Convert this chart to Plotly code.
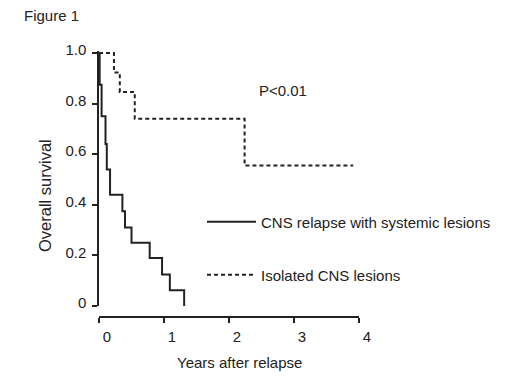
import plotly.graph_objects as go

# ---- data ----
systemic_years = [0, 0.01, 0.04, 0.10, 0.12, 0.17, 0.36, 0.40, 0.50, 0.78, 0.97, 1.09, 1.31]
systemic_surv = [1.0, 0.875, 0.75, 0.64, 0.54, 0.44, 0.375, 0.31, 0.25, 0.19, 0.125, 0.0625, 0.0]
isolated_years = [0, 0.23, 0.32, 0.55, 2.24, 3.91]
isolated_surv = [1.0, 0.923, 0.846, 0.74, 0.555, 0.555]
x_ticks = [0, 1, 2, 3, 4]
y_ticks = [0, 0.2, 0.4, 0.6, 0.8, 1.0]
y_tick_labels = ["0", "0.2", "0.4", "0.6", "0.8", "1.0"]

W, H = 520, 392
L, R = 99, 359          # x-axis pixel span (0..4 years)
Y0, Y1 = 306, 53        # pixel of survival 0 and 1
XAX = 317               # pixel row of x-axis line
YTOP = 1.008
top_px = Y0 - (Y0 - Y1) * YTOP
plot_h = XAX - top_px

def px_x(p):
    return (p - L) / (R - L)

def px_y(p):
    return (XAX - p) / plot_h

FONT = "Liberation Sans, Arial, Helvetica, sans-serif"
INK = "#222222"

fig = go.Figure()
fig.add_trace(go.Scatter(
    x=systemic_years, y=systemic_surv, mode="lines", line_shape="hv",
    line=dict(color=INK, width=2), name="CNS relapse with systemic lesions",
    legend="legend", showlegend=True))
fig.add_trace(go.Scatter(
    x=isolated_years, y=isolated_surv, mode="lines", line_shape="hv",
    line=dict(color=INK, width=2, dash="4px,3px"), name="Isolated CNS lesions",
    legend="legend2", showlegend=True))

fig.update_layout(
    width=W, height=H, showlegend=True,
    margin=dict(l=L, r=W - R, t=top_px, b=H - XAX, pad=0),
    paper_bgcolor="white", plot_bgcolor="white",
    font=dict(family=FONT, size=15, color=INK),
    xaxis=dict(range=[0, 4], domain=[0, 1], anchor="free", position=0,
               showgrid=False, zeroline=False, showline=True, linecolor=INK, linewidth=1.5,
               ticks="outside", ticklen=5, tickwidth=1.5, tickcolor=INK,
               tickvals=x_ticks, ticklabelshift=8, ticklabelstandoff=1,
               tickfont=dict(size=15, color=INK)),
    yaxis=dict(range=[0, YTOP], domain=[px_y(Y0), 1], anchor="x",
               showgrid=False, zeroline=False, showline=True, linecolor=INK, linewidth=1.5,
               ticks="outside", ticklen=5, tickwidth=1.5, tickcolor=INK,
               tickvals=y_ticks, ticktext=y_tick_labels, ticklabelshift=-3,
               ticklabelstandoff=3, tickfont=dict(size=15, color=INK)),
    legend=dict(x=px_x(202), y=px_y(222), xanchor="left", yanchor="middle",
                bgcolor="rgba(0,0,0,0)", borderwidth=0, itemwidth=49,
                font=dict(size=15, color=INK)),
    legend2=dict(x=px_x(202), y=px_y(275), xanchor="left", yanchor="middle",
                 bgcolor="rgba(0,0,0,0)", borderwidth=0, itemwidth=49,
                 font=dict(size=15, color=INK)),
    annotations=[
        dict(text="Figure 1", xref="paper", yref="paper", x=px_x(22), y=px_y(15),
             xanchor="left", yanchor="middle", showarrow=False, font=dict(size=15)),
        dict(text="P<0.01", xref="paper", yref="paper", x=px_x(257), y=px_y(90),
             xanchor="left", yanchor="middle", showarrow=False, font=dict(size=15)),
        dict(text="Years after relapse", xref="paper", yref="paper", x=px_x(239), y=px_y(363),
             xanchor="center", yanchor="middle", showarrow=False, font=dict(size=15)),
        dict(text="Overall survival", xref="paper", yref="paper", x=px_x(45), y=px_y(196),
             xanchor="center", yanchor="middle", textangle=-90, showarrow=False,
             font=dict(size=16.5)),
    ],
)

fig.write_html("out.html", config={"displayModeBar": False},
               post_script="document.body.style.margin='0';")
